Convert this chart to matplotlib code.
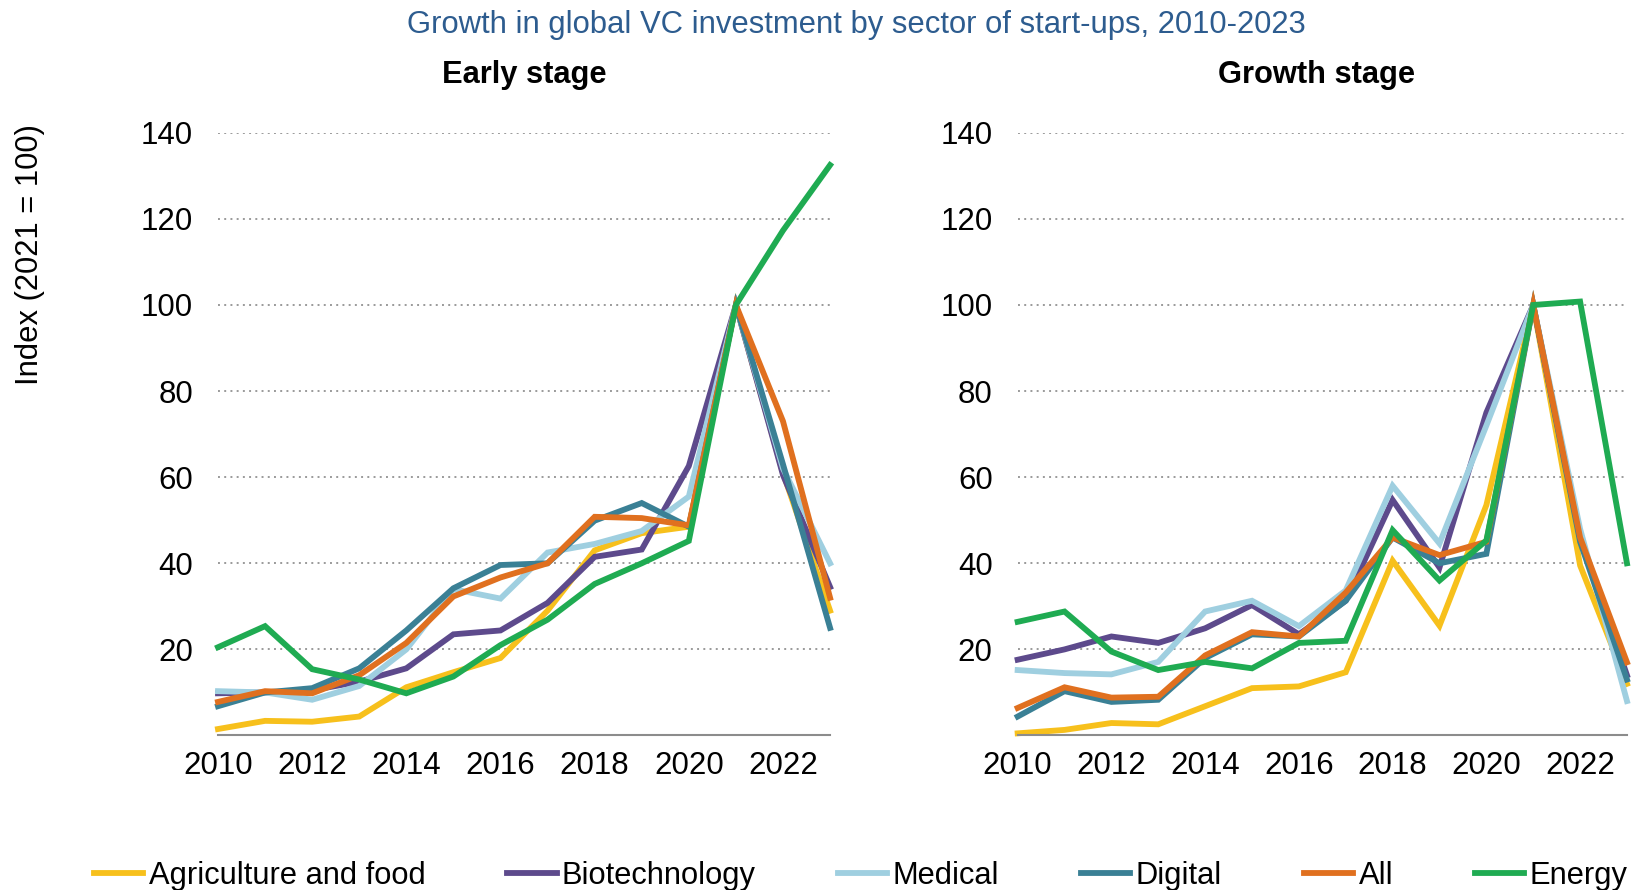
import matplotlib
matplotlib.use("Agg")
import matplotlib.pyplot as plt

plt.rcParams["font.family"] = ["Liberation Sans", "DejaVu Sans"]

# 年份与各行业指数 (2021 = 100)
years = list(range(2010, 2024))
sectors = ["Agriculture and food", "Biotechnology", "Medical", "Digital", "All", "Energy"]
colors = ["#f7c01c", "#5d4a8c", "#9fcfe0", "#3a8095", "#e0701f", "#1fab52"]

# Early stage
agri_early = [1.5, 3.4, 3.2, 4.4, 11.2, 14.7, 18.0, 29.0, 43.0, 47.0, 48.5, 100, 61.0, 29.0]
bio_early = [9.8, 10.0, 10.5, 12.5, 15.6, 23.5, 24.4, 30.8, 41.5, 43.2, 62.6, 100, 60.5, 34.5]
med_early = [10.3, 10.0, 8.3, 11.5, 20.0, 34.0, 31.8, 42.5, 44.5, 47.5, 55.5, 100, 62.0, 40.0]
dig_early = [6.8, 10.0, 11.0, 15.6, 24.4, 34.2, 39.6, 40.0, 49.9, 54.0, 48.5, 100, 63.0, 25.0]
all_early = [7.8, 10.3, 9.8, 14.0, 21.5, 32.3, 36.7, 40.0, 50.8, 50.5, 48.8, 100, 73.0, 32.0]
nrg_early = [20.5, 25.4, 15.4, 13.0, 9.8, 13.7, 21.0, 26.9, 35.2, 40.0, 45.2, 100, 117.3, 132.5]

# Growth stage
agri_growth = [0.5, 1.3, 2.9, 2.6, 6.8, 11.0, 11.4, 14.7, 40.6, 25.5, 53.5, 100, 39.5, 12.0]
bio_growth = [17.6, 20.0, 23.0, 21.5, 24.9, 30.3, 23.5, 31.3, 54.7, 39.0, 75.0, 100, 46.0, 14.0]
med_growth = [15.2, 14.5, 14.2, 17.1, 28.8, 31.3, 25.4, 33.7, 58.0, 44.6, 72.0, 100, 48.0, 8.0]
dig_growth = [4.4, 10.3, 7.8, 8.3, 18.0, 23.5, 23.0, 31.3, 46.0, 40.0, 42.2, 100, 45.0, 13.0]
all_growth = [6.4, 11.2, 8.8, 9.0, 18.6, 24.0, 23.0, 33.2, 46.0, 41.9, 45.0, 100, 46.0, 17.0]
nrg_growth = [26.4, 28.8, 19.5, 15.2, 17.1, 15.6, 21.5, 22.0, 47.7, 36.0, 45.3, 100, 100.8, 40.0]

early = [agri_early, bio_early, med_early, dig_early, all_early, nrg_early]
growth = [agri_growth, bio_growth, med_growth, dig_growth, all_growth, nrg_growth]

fig = plt.figure(figsize=(16.34, 8.9), dpi=100)
ax1 = fig.add_axes([0.1334, 0.1736, 0.3746, 0.6772])
ax2 = fig.add_axes([0.6228, 0.1736, 0.3729, 0.6772])


def draw_panel(ax, series, title, title_x=0.5):
    for name, vals, c in zip(sectors, series, colors):
        ax.plot(years, vals, color=c, lw=4.2, label=name, clip_on=False,
                solid_joinstyle="miter")
    ax.set_xlim(2010, 2023)
    ax.set_ylim(0, 140)
    ax.set_xticks(range(2010, 2023, 2))
    ax.set_yticks(range(20, 141, 20))
    # 虚线网格
    ax.grid(axis="y", linestyle=(0, (1, 2.2)), color="#9a9a9a", lw=1.4)
    ax.set_axisbelow(True)
    for s in ["top", "right", "left"]:
        ax.spines[s].set_visible(False)
    ax.spines["bottom"].set_color("#8c8c8c")
    ax.spines["bottom"].set_linewidth(1.5)
    ax.tick_params(axis="both", length=0, labelsize=22.5, colors="black")
    ax.tick_params(axis="y", pad=18)
    ax.tick_params(axis="x", pad=11)
    ax.set_title(title, fontsize=22.2, fontweight="bold", pad=36, x=title_x)


draw_panel(ax1, early, "Early stage")
draw_panel(ax2, growth, "Growth stage", title_x=0.491)

fig.text(0.524, 0.972, "Growth in global VC investment by sector of start-ups, 2010-2023",
         ha="center", va="center", fontsize=22.3, color="#2d5c8f")
fig.text(30 / 1634, 1 - 255 / 890, "Index (2021 = 100)", rotation=90,
         ha="center", va="center", fontsize=22.3)

handles, labels = ax1.get_legend_handles_labels()
fig.legend(handles, labels, loc="center left", bbox_to_anchor=(94 / 1634, 1 - 876 / 890),
           ncol=6, frameon=False, fontsize=22.2, handlelength=1.6, handletextpad=0.17,
           columnspacing=2.66, borderpad=0, borderaxespad=0)

fig.savefig("out.png", dpi=100)
